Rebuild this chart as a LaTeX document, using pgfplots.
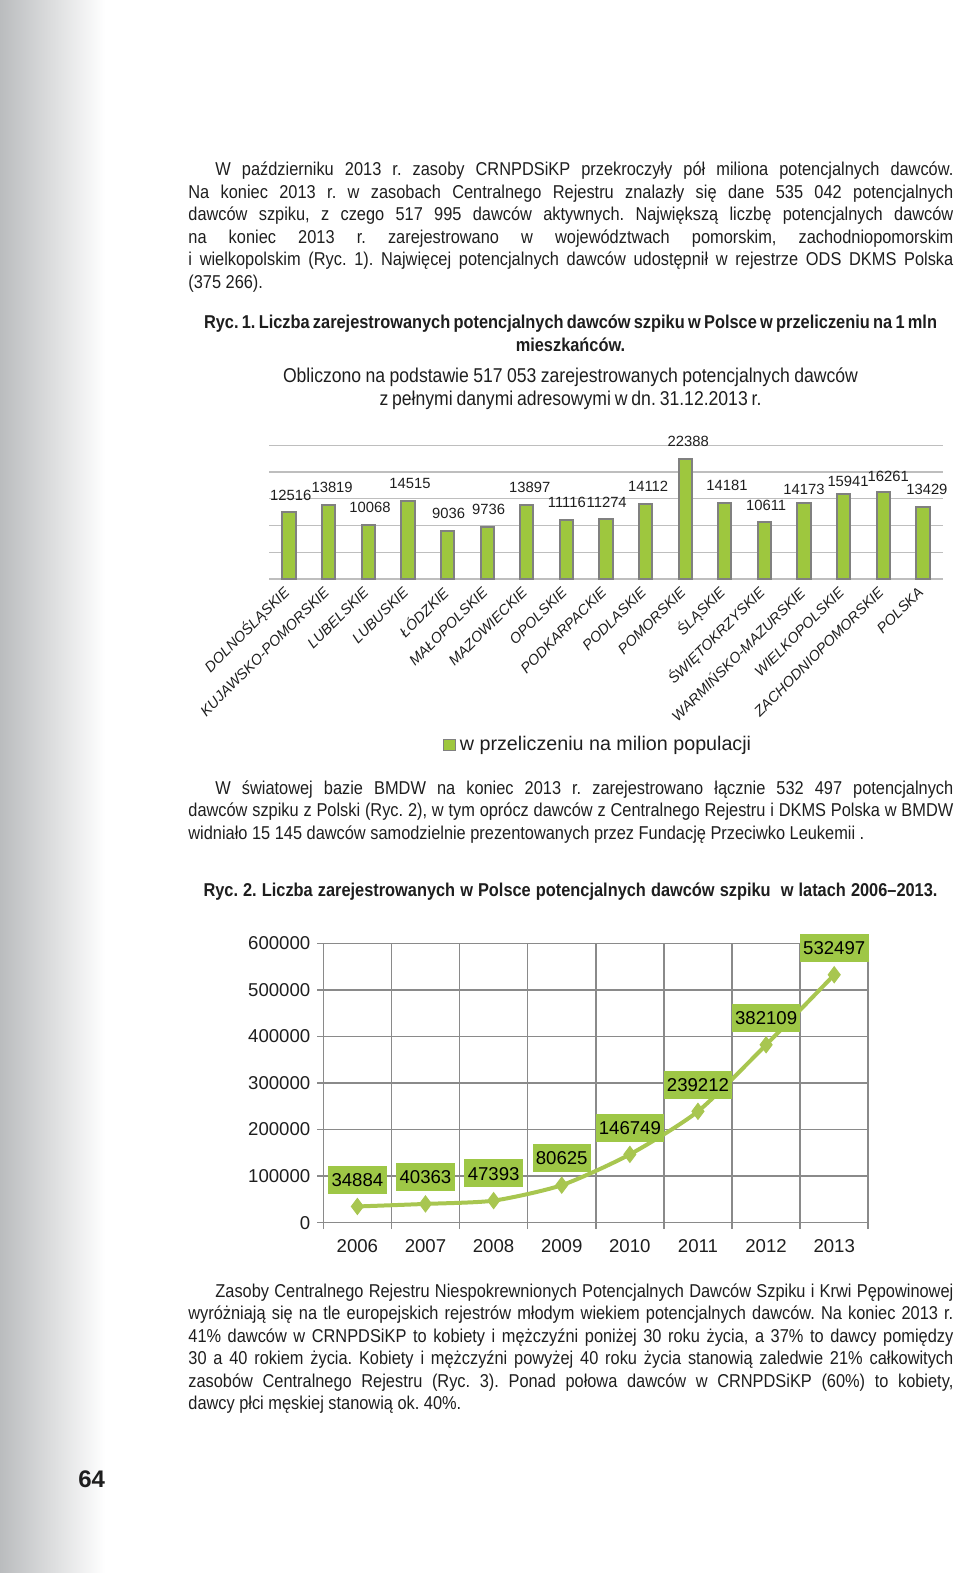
\documentclass[border=0pt]{standalone}
\usepackage{pgfplots}
\pgfplotsset{compat=1.18}
\usepackage{fontspec}
\setmainfont{Liberation Sans}[FakeStretch=0.88]
\newfontfamily\arial{Liberation Sans}
\frenchspacing

\definecolor{sideg}{RGB}{186,188,190}
\definecolor{bargreen}{RGB}{158,199,62}
\definecolor{barborder}{RGB}{128,128,128}
\definecolor{gridgray}{RGB}{190,190,190}
\definecolor{axgray}{RGB}{138,138,138}
\definecolor{linegreen}{RGB}{168,198,80}
\definecolor{boxgreen}{RGB}{158,199,70}
\definecolor{txt}{RGB}{30,30,30}

% one px of the page = 0.5pt
\newcommand{\jl}[2]{\node[body] at (94pt,-#1*0.5pt) {\hbox to 382.5pt{#2}};}
\newcommand{\il}[2]{\node[body] at (94pt,-#1*0.5pt) {\hbox to 382.5pt{\hspace*{13.5pt}#2}};}
\newcommand{\el}[2]{\node[body] at (94pt,-#1*0.5pt) {#2};}
% centred line of a given width (pt)
\newcommand{\cl}[3]{\node[bodyc] at (285.25pt,-#1*0.5pt) {\hbox to #2pt{#3}};}

\begin{document}
\begin{tikzpicture}[
  body/.style={anchor=base west, inner sep=0pt, text=txt, font=\fontsize{9.3}{11}\selectfont},
  bodyc/.style={anchor=base, inner sep=0pt, text=txt, font=\fontsize{9.3}{11}\selectfont},
]
\path[use as bounding box] (0,0) rectangle (480pt,-786.5pt);
\shade[left color=sideg, right color=white] (0,0) rectangle (52.5pt,-786.5pt);

% paragraph 1
\il{176}{W październiku 2013 r. zasoby CRNPDSiKP przekroczyły pół miliona potencjalnych dawców.}
\jl{198.4}{Na koniec 2013 r. w zasobach Centralnego Rejestru znalazły się dane 535 042 potencjalnych}
\jl{220.8}{dawców szpiku, z czego 517 995 dawców aktywnych. Największą liczbę potencjalnych dawców}
\jl{243.2}{na koniec 2013 r. zarejestrowano w województwach pomorskim, zachodniopomorskim}
\jl{265.6}{i wielkopolskim (Ryc. 1). Najwięcej potencjalnych dawców udostępnił w rejestrze ODS DKMS Polska}
\el{288}{(375 266).}

% caption 1
\cl{328}{366.5}{\bfseries Ryc. 1. Liczba zarejestrowanych potencjalnych dawców szpiku w Polsce w przeliczeniu na 1 mln}
\node[bodyc, font=\bfseries\fontsize{9.3}{11}\selectfont] at (285.25pt,-351*0.5pt) {mieszkańców.};
\cl{382}{287.5}{\fontsize{10}{12}\selectfont Obliczono na podstawie 517 053 zarejestrowanych potencjalnych dawców}
\cl{405}{191}{\fontsize{10}{12}\selectfont z pełnymi danymi adresowymi w dn. 31.12.2013 r.}

% paragraph 2
\il{794}{W światowej bazie BMDW na koniec 2013 r. zarejestrowano łącznie 532 497 potencjalnych}
\jl{816.5}{dawców szpiku z Polski (Ryc. 2), w tym oprócz dawców z Centralnego Rejestru i DKMS Polska w BMDW}
\el{839}{widniało 15 145 dawców samodzielnie prezentowanych przez Fundację Przeciwko Leukemii .}

\cl{896}{367}{\bfseries Ryc. 2. Liczba zarejestrowanych w Polsce potencjalnych dawców szpiku\ \ w latach 2006–2013.}

% paragraph 3
\il{1297}{Zasoby Centralnego Rejestru Niespokrewnionych Potencjalnych Dawców Szpiku i Krwi Pępowinowej}
\jl{1319.5}{wyróżniają się na tle europejskich rejestrów młodym wiekiem potencjalnych dawców. Na koniec 2013 r.}
\jl{1342}{41\% dawców w CRNPDSiKP to kobiety i mężczyźni poniżej 30 roku życia, a 37\% to dawcy pomiędzy}
\jl{1364.5}{30 a 40 rokiem życia. Kobiety i mężczyźni powyżej 40 roku życia stanowią zaledwie 21\% całkowitych}
\jl{1387}{zasobów Centralnego Rejestru (Ryc. 3). Ponad połowa dawców w CRNPDSiKP (60\%) to kobiety,}
\el{1409.5}{dawcy płci męskiej stanowią ok. 40\%.}

\node[anchor=base, inner sep=0pt, text=txt, font=\arial\bfseries\fontsize{12}{14}\selectfont] at (45.8pt,-743.6pt) {64};

% Ryc. 1 -- bars per million inhabitants
\begin{axis}[
  at={(134.65pt,-289.5pt)}, anchor=south west,
  scale only axis, width=336.7pt, height=66.85pt,
  clip=false, scaled y ticks=false,
  xmin=-0.5, xmax=16.5, ymin=0, ymax=25000,
  ybar, bar width=6.65pt,
  axis line style={draw=none},
  major tick length=0pt,
  ytick={0,5000,...,25000}, yticklabels={},
  ymajorgrids, major grid style={gridgray, line width=0.7pt},
  xtick={0,...,16},
  xticklabels={DOLNOŚLĄSKIE,KUJAWSKO-POMORSKIE,LUBELSKIE,LUBUSKIE,ŁÓDZKIE,MAŁOPOLSKIE,MAZOWIECKIE,OPOLSKIE,PODKARPACKIE,PODLASKIE,POMORSKIE,ŚLĄSKIE,ŚWIĘTOKRZYSKIE,WARMIŃSKO-MAZURSKIE,WIELKOPOLSKIE,ZACHODNIOPOMORSKIE,POLSKA},
  xticklabel style={rotate=45, anchor=east, inner sep=0pt, xshift=-4.4pt, yshift=-3pt,
    text=txt, font=\arial\itshape\fontsize{7.3}{8}\selectfont},
  every node near coord/.append style={inner sep=0pt, text height=5.3pt, text depth=0pt,
    text=txt, font=\arial\fontsize{7.4}{8}\selectfont, xshift=\dx pt, yshift=\dy pt},
  legend image code/.code={\draw[fill=bargreen, draw=barborder, line width=0.6pt] (0pt,-2.8pt) rectangle (5.8pt,2.8pt);},
  legend style={at={(0.2575,-1.2416)}, anchor=west, draw=none, fill=none, inner sep=0pt,
    text=txt, font=\arial\fontsize{9.85}{11}\selectfont},
]
\addplot[fill=bargreen, draw=barborder, line width=1pt,
  nodes near coords, point meta=explicit symbolic,
  visualization depends on={value \thisrow{dx}\as\dx},
  visualization depends on={value \thisrow{dy}\as\dy},
] table[x=x, y=y, meta=lbl] {
x  y     lbl   dx   dy
0  12516 12516 0.85 5.05
1  13819 13819 1.7  5.75
2  10068 10068 0.8  5.8
3  14515 14515 1.0  6.05
4  9036  9036  0.5  5.55
5  9736  9736  0.75 5.8
6  13897 13897 1.5  5.55
7  11116 11116 0.25 5.5
8  11274 11274 0.35 5.35
9  14112 14112 1.25 5.75
10 22388 22388 1.5  5.85
11 14181 14181 1.1  5.6
12 10611 10611 0.85 5.5
13 14173 14173 0.0  3.95
14 15941 15941 2.2  3.35
15 16261 16261 2.45 5.0
16 13429 13429 2.0  5.6
};
\addlegendentry{w przeliczeniu na milion populacji}
\end{axis}

% Ryc. 2 -- registered donors 2006-2013
\begin{axis}[
  at={(161.65pt,-611.35pt)}, anchor=south west,
  scale only axis, width=272.5pt, height=139.7pt,
  clip=false, scaled y ticks=false,
  xmin=2005.5, xmax=2013.5, ymin=0, ymax=600000,
  axis line style={axgray, line width=0.75pt},
  tick style={axgray, line width=0.75pt},
  tick align=outside, tick pos=left,
  major tick length=3pt, minor tick length=3pt,
  xtick={2006,...,2013},
  xticklabels={2006,2007,2008,2009,2010,2011,2012,2013},
  every major x tick/.append style={draw=none},
  minor xtick={2005.5,2006.5,...,2013.5},
  xminorgrids, minor grid style={axgray, line width=0.75pt},
  ytick={0,100000,...,600000},
  yticklabels={0,100000,200000,300000,400000,500000,600000},
  ymajorgrids, major grid style={axgray, line width=0.75pt},
  ticklabel style={text=txt, font=\arial\fontsize{9.3}{10}\selectfont},
  xticklabel style={yshift=-2pt},
  every node near coord/.append style={fill=boxgreen, text=black,
    font=\arial\fontsize{9.3}{10}\selectfont, text height=6.7pt, text depth=0pt,
    inner xsep=1.65pt, inner ysep=3.65pt, yshift=\dy pt},
]
\addplot[linegreen, line width=2pt, smooth, tension=0.4,
  mark=diamond*, mark size=4pt, mark options={fill=linegreen, draw=linegreen, line width=0.5pt},
  nodes near coords, point meta=explicit symbolic,
  visualization depends on={value \thisrow{dy}\as\dy},
] table[x=x, y=y, meta=lbl] {
x    y      lbl    dy
2006 34884  34884  6.2
2007 40363  40363  6.2
2008 47393  47393  6.4
2009 80625  80625  6.3
2010 146749 146749 5.85
2011 239212 239212 5.9
2012 382109 382109 6.2
2013 532497 532497 6.2
};
\end{axis}
\end{tikzpicture}
\end{document}
